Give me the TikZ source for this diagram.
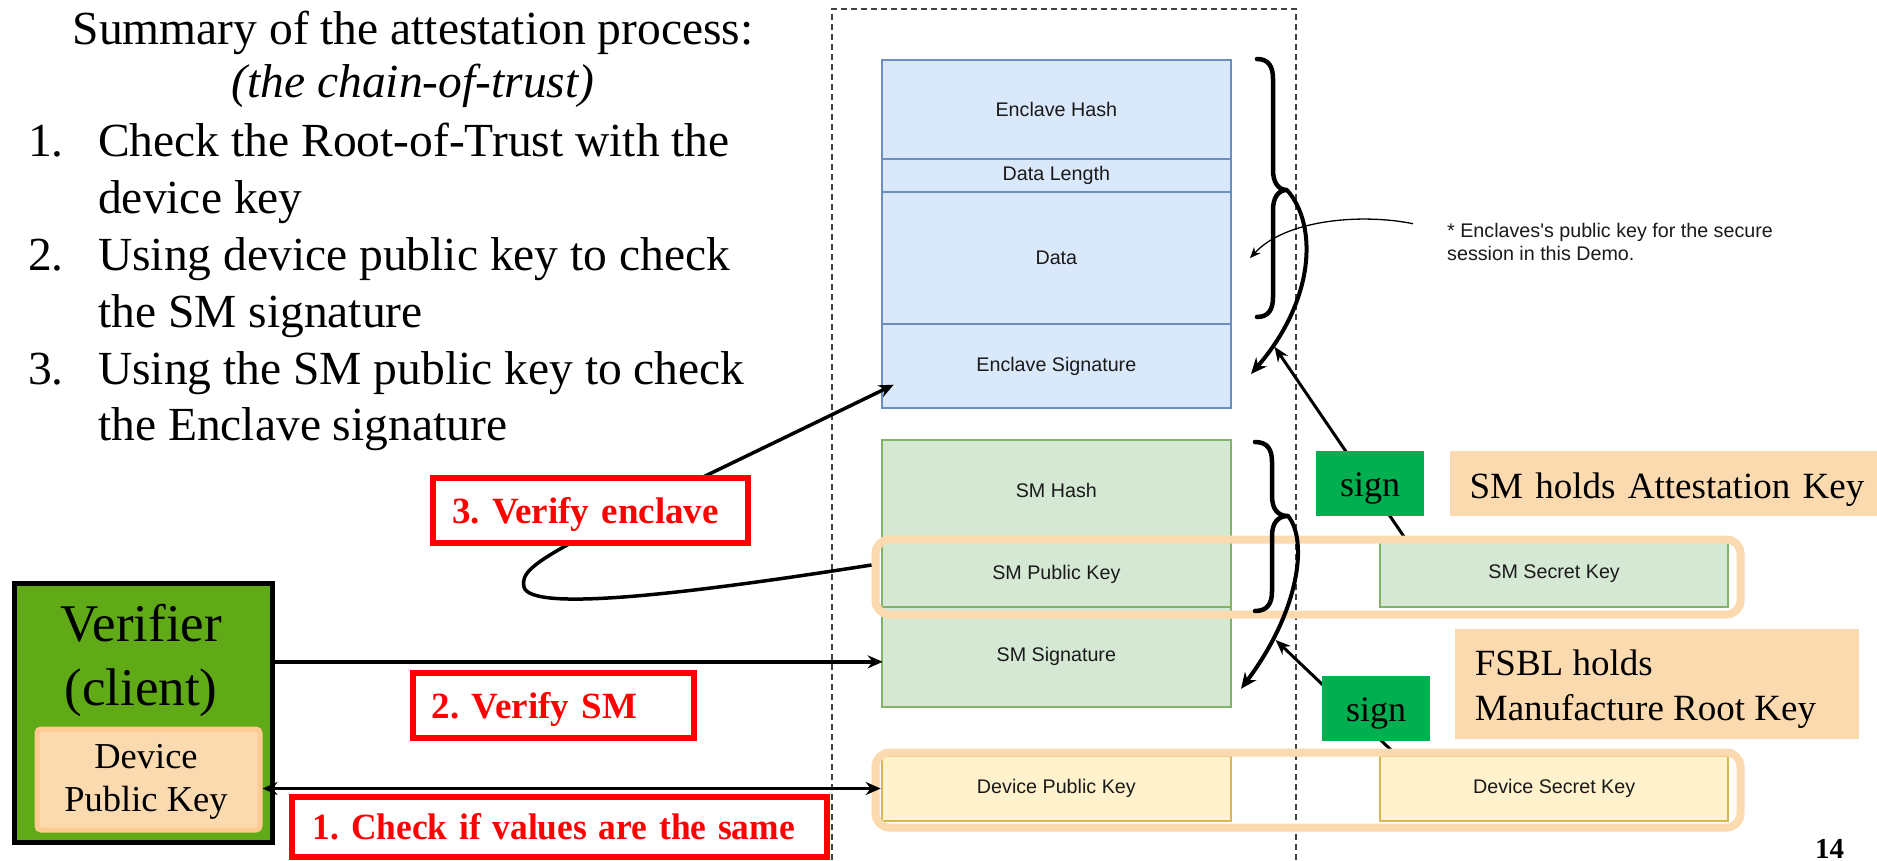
\documentclass[tikz,border=0pt]{standalone}
\usepackage{fontspec}
\usepackage{graphicx}
\setmainfont{Liberation Serif}
\newfontfamily\arial{Liberation Sans}
\usetikzlibrary{arrows.meta,calc}

\definecolor{blueF}{HTML}{DAE8FC}
\definecolor{blueD}{HTML}{6C8EBF}
\definecolor{greenF}{HTML}{D5E8D4}
\definecolor{greenD}{HTML}{82B366}
\definecolor{yelF}{HTML}{FFF2CC}
\definecolor{yelD}{HTML}{D6B656}
\definecolor{peach}{HTML}{FCDAB0}
\definecolor{peachD}{HTML}{FFCB90}
\definecolor{signG}{HTML}{00B050}
\definecolor{verG}{HTML}{60A917}
\definecolor{dashG}{HTML}{404040}
\definecolor{ink}{HTML}{1A1A1A}

\begin{document}
\frenchspacing
\begin{tikzpicture}[x=1pt,y=-1pt,
  blk/.style={draw, line width=2pt, inner sep=0pt, anchor=north west,
    font=\arial\fontsize{19.7}{23}\selectfont, text=ink},
  hl/.style={draw=peach, line width=8pt, rounded corners=14pt, inner sep=0pt, anchor=north west},
  curlyb/.style={line width=4.5pt, line cap=round, line join=round},
  bigarr/.style={line width=4pt, -{Stealth[length=16pt,width=14pt]}},
  signarr/.style={line width=3pt, -{Stealth[length=15pt,width=12pt]}},
  flowarr/.style={line width=3.5pt, >={Stealth[length=15pt,width=13pt]}},
  redbox/.style={draw=red, line width=6pt, fill=white, text=red, inner sep=0pt,
    align=left, anchor=north west, font=\bfseries\fontsize{37}{44}\selectfont,
    text height=29.6pt, text depth=3.6pt},
  signbox/.style={fill=signG, inner sep=0pt, font=\fontsize{36}{43}\selectfont,
    text height=30.6pt, text depth=3.6pt},
  lab/.style={fill=peach, inner sep=0pt, align=left, anchor=north west,
    font=\fontsize{37}{45}\selectfont, text height=33.3pt, text depth=3.3pt},
  big/.style={anchor=base west, font=\fontsize{47.5}{56}\selectfont, inner sep=0pt},
  note/.style={anchor=base west, font=\arial\fontsize{19.7}{22.6}\selectfont, text=ink, inner sep=0pt},
  plain/.style={anchor=base west, font=\fontsize{37}{45}\selectfont, inner sep=0pt}
]
\useasboundingbox[fill=white] (0,0) rectangle (1877,861);

% summary text on the left
\node[anchor=base, font=\fontsize{47.5}{56}\selectfont, inner sep=0pt] (ttl) at (413,45) {Summary of the attestation process:};
\node[anchor=base, font=\itshape\fontsize{47.5}{56}\selectfont, inner sep=0pt] (sub) at (413,98) {(the chain-of-trust)};
\node[big] (n1) at (28,157) {1.};
\node[big] (i1a) at (98,157) {Check the Root-of-Trust with the};
\node[big] (i1b) at (98,213.5) {device key};
\node[big] (n2) at (28,270) {2.};
\node[big] (i2a) at (98,270) {Using device public key to check};
\node[big] (i2b) at (98,327) {the SM signature};
\node[big] (n3) at (28,384) {3.};
\node[big] (i3a) at (98,384) {Using the SM public key to check};
\node[big] (i3b) at (98,440) {the Enclave signature};

% dashed frame of the device memory
\draw[dashG, line width=1.5pt, dash pattern=on 6pt off 4pt] (832,880) -- (832,9) -- (1296,9) -- (1296,880);

% enclave report
\node[blk, fill=blueF, draw=blueD, minimum width=349.3pt, minimum height=99pt] (eh) at (880.7,58.7) {Enclave Hash};
\node[blk, fill=blueF, draw=blueD, minimum width=349.3pt, minimum height=33.3pt] (dl) at (880.7,157.7) {Data Length};
\node[blk, fill=blueF, draw=blueD, minimum width=349.3pt, minimum height=132.3pt] (dt) at (880.7,191) {Data};
\node[blk, fill=blueF, draw=blueD, minimum width=349.3pt, minimum height=83.4pt] (es) at (880.7,323.3) {Enclave Signature};

% security monitor report
\node[blk, fill=greenF, draw=greenD, minimum width=349.3pt, minimum height=100.7pt] (smh) at (880.7,439.3) {SM Hash};
\node[blk, fill=greenF, draw=greenD, minimum width=349.3pt, minimum height=66pt] (smp) at (880.7,540) {SM Public Key};
\node[blk, fill=greenF, draw=greenD, minimum width=349.3pt, minimum height=99.7pt] (sms) at (880.7,606) {SM Signature};
\node[blk, fill=greenF, draw=greenD, minimum width=347.7pt, minimum height=66pt] (ssk) at (1379.3,540) {SM Secret Key};

% device keys
\node[blk, fill=yelF, draw=yelD, minimum width=349.3pt, minimum height=65pt] (dpub) at (880.7,755) {Device Public Key};
\node[blk, fill=yelF, draw=yelD, minimum width=347.7pt, minimum height=65pt] (dsec) at (1379.3,755) {Device Secret Key};

% signing arrows
\coordinate (s1end) at (1274.5,346.7);
\coordinate (s2end) at (1275.7,640);
\draw[signarr] ([xshift=27pt]ssk.north west) -- (s1end);
\draw[signarr] ([xshift=17pt]dsec.north west) -- (s2end);

% key pair highlights
\node[hl, minimum width=865pt, minimum height=75pt] (g1) at (871.5,535.5) {};
\node[hl, minimum width=865pt, minimum height=75pt] (g2) at (871.5,748.5) {};

% braces and what they sign
\coordinate (bt1) at (1287,190);
\coordinate (bt2) at (1288,516);
\draw[curlyb] (1257,59) .. controls (1269,59) and (1273,67) .. (1273,79) -- (1273,170)
  .. controls (1273,182) and (1278,190) .. (bt1)
  .. controls (1278,190) and (1273,198) .. (1273,210) -- (1273,297)
  .. controls (1273,309) and (1269,317) .. (1257,317);
\draw[curlyb] (1255,442) .. controls (1268,442) and (1272,450) .. (1272,462) -- (1272,496)
  .. controls (1272,508) and (1277,516) .. (bt2)
  .. controls (1277,516) and (1272,524) .. (1272,536) -- (1272,591)
  .. controls (1272,603) and (1268,611) .. (1255,611);
\coordinate (ce1) at ([xshift=19pt,yshift=-8pt]es.east);
\coordinate (ce2) at ([xshift=9pt,yshift=-32pt]sms.east);
\draw[bigarr] (bt1) .. controls (1318,225) and (1315,300) .. (ce1);
\draw[bigarr] (bt2) .. controls (1308,540) and (1300,610) .. (ce2);

% footnote on the data field
\node[note] (nt1) at (1447,237.7) {* Enclaves's public key for the secure};
\node[note] (nt2) at (1447,260.3) {session in this Demo.};
\draw[line width=1.3pt, -{Stealth[length=11pt,width=9pt]}]
  ([xshift=-34pt,yshift=14pt]nt1.base west) .. controls (1360,213) and (1285,220) .. ([xshift=18pt]dt.east);

% verifier
\node[draw=black, fill=verG, line width=5pt, inner sep=0pt, anchor=north west,
  minimum width=257.7pt, minimum height=259.4pt] (ver) at (12.1,580.8) {};
\node[anchor=base, font=\fontsize{53}{63}\selectfont, inner sep=0pt] (vt1) at (141,641.7) {Verifier};
\node[anchor=base, font=\fontsize{53}{63}\selectfont, inner sep=0pt] (vt2) at (141,705) {(client)};
\node[draw=peachD, fill=peach, line width=5pt, rounded corners=4pt, inner sep=0pt, anchor=north west,
  minimum width=223pt, minimum height=101pt] (dpk) at (34.5,726.5) {};
\node[anchor=base, font=\fontsize{36.5}{43}\selectfont, inner sep=0pt] (dk1) at (146,768.3) {Device};
\node[anchor=base, font=\fontsize{36.5}{43}\selectfont, inner sep=0pt] (dk2) at (146,811.7) {Public Key};

% verification steps
\coordinate (a1r) at (dpub.west);
\draw[flowarr, <->] (dpk.east |- a1r) -- (a1r);
\coordinate (a2r) at ([xshift=2pt,yshift=-5pt]sms.west);
\draw[flowarr, ->] (ver.east |- a2r) -- (a2r);
\coordinate (a3e) at ([xshift=13pt,yshift=24pt]es.south west);
\draw[flowarr, ->] ([yshift=12pt]g1.west) .. controls (680,595) and (530,612) .. (524,587)
  .. controls (518,562) and (560,547) .. (a3e);

\node[redbox, minimum height=65pt, text width=314.7pt] (v3) at (430,474.7) {\hspace*{19pt}3. Verify enclave};
\node[redbox, minimum height=64.4pt, text width=280.6pt] (v2) at (410.4,670.3) {\hspace*{18.4pt}2. Verify SM};
\node[redbox, minimum height=60.3pt, text width=535.3pt] (v1) at (288.7,793.7) {\hspace*{21pt}\scalebox{0.957}[1]{1. Check if values are the same}};

% signing labels
\node[signbox, minimum width=108pt, minimum height=64.7pt] (sg1) at (1370,483.4) {sign};
\node[signbox, minimum width=107.2pt, minimum height=64.7pt] (sg2) at (1376,708.4) {sign};
\node[lab, minimum height=64.7pt, text width=440pt] (smk) at (1450,451) {\hspace*{19.4pt}SM holds Attestation Key};
\node[lab, minimum width=404pt, minimum height=110pt] (fsbl) at (1454.4,628.3) {};
\node[plain] (fb1) at (1474.7,675) {FSBL holds};
\node[plain] (fb2) at (1474.7,720) {Manufacture Root Key};

\node[anchor=base, font=\bfseries\fontsize{29}{29}\selectfont, inner sep=0pt] (pg) at (1829.5,858) {14};
\end{tikzpicture}
\end{document}
